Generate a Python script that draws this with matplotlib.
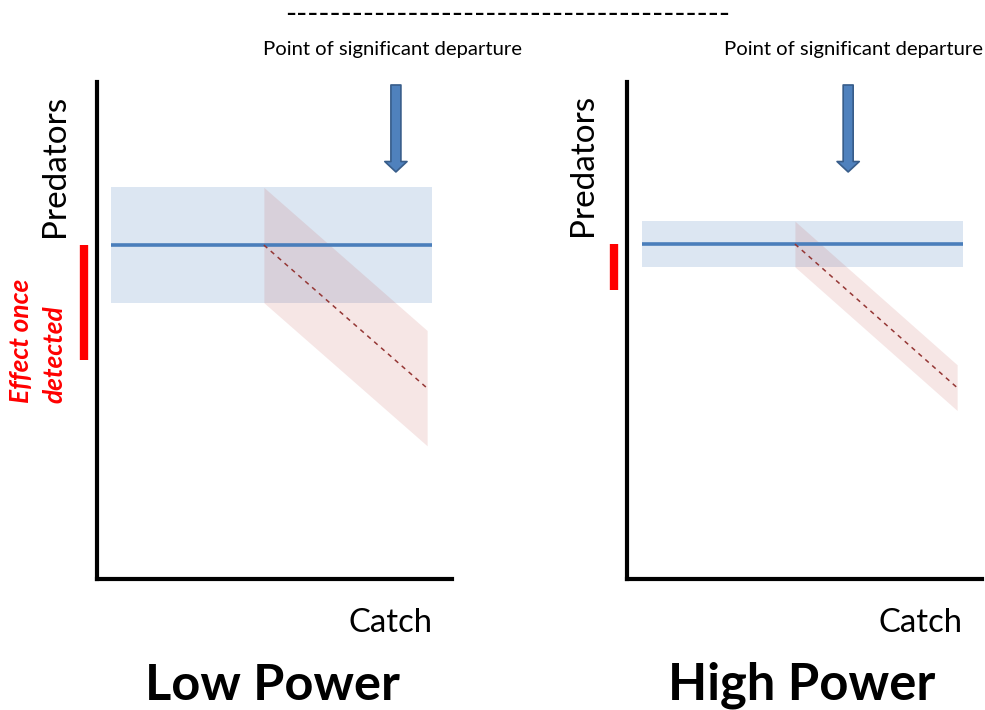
import matplotlib
matplotlib.use("Agg")
import matplotlib.pyplot as plt
import numpy as np

# ---------------- data (conceptual values) ----------------
panel_titles = ["Low Power", "High Power"]
null_x_start = [0.40, 0.42]      # start of the "no effect" band (catch)
null_x_end = [9.45, 9.46]        # end of the "no effect" band
null_level = [6.72, 6.74]        # predators level of the null line
ci_half = [1.16, 0.46]           # half width of confidence bands
depart_x = [4.70, 4.73]          # catch where the decline starts
decline_x_end = [9.30, 9.30]     # catch where decline line ends
decline_y_end = [3.84, 3.85]     # predators at end of decline line
arrow_x = [8.42, 6.23]           # point of significant departure (catch)
arrow_y = [9.94, 8.19]           # arrow top / tip (predators)
effect_bar_x = -0.37             # position of red "effect" bar (catch units)

W, H = 985, 710
fig = plt.figure(figsize=(W / 100, H / 100), dpi=100)
plt.rcParams['font.family'] = ['Lato', 'DejaVu Sans']

def fx(x):
    return x / W

def fy(y):
    return 1 - y / H

# axes boxes in pixels (left, right, top, bottom)
boxes = [(97, 452, 82, 579), (627, 982, 82, 579)]

BLUE_LINE = '#4a7ebb'
BLUE_BAND = '#dce6f2'
RED_BAND = '#c0504d'
RED_LINE = '#953735'

for i, (l, r, t, b) in enumerate(boxes):
    ax = fig.add_axes([fx(l), fy(b), (r - l) / W, (b - t) / H])
    ax.set_xlim(0, 10)
    ax.set_ylim(0, 10)
    for s in ['top', 'right']:
        ax.spines[s].set_visible(False)
    for s in ['left', 'bottom']:
        ax.spines[s].set_linewidth(3)
        ax.spines[s].set_color('black')
        ax.spines[s].set_capstyle('projecting')
    ax.set_xticks([])
    ax.set_yticks([])
    ax.patch.set_alpha(0)

    # null band + line
    xs = np.array([null_x_start[i], null_x_end[i]])
    ax.fill_between(xs, null_level[i] - ci_half[i], null_level[i] + ci_half[i],
                    color=BLUE_BAND, lw=0, zorder=1)
    ax.plot(xs, [null_level[i]] * 2, color=BLUE_LINE, lw=2.6, zorder=3,
            solid_capstyle='butt')

    # decline band + dashed line
    dx = np.array([depart_x[i], decline_x_end[i]])
    dy = np.array([null_level[i], decline_y_end[i]])
    ax.fill_between(dx, dy - ci_half[i], dy + ci_half[i],
                    color=RED_BAND, alpha=0.14, lw=0, zorder=2)
    ax.plot(dx, dy, color=RED_LINE, lw=1.1, ls=(0, (3, 3)), zorder=4)

    # red effect bar
    ax.plot([effect_bar_x, effect_bar_x],
            [null_level[i] - 2 * ci_half[i], null_level[i]],
            color='#ff0000', lw=6, solid_capstyle='butt', clip_on=False)

    # arrow
    ax.annotate('', xy=(arrow_x[i], arrow_y[1]), xytext=(arrow_x[i], arrow_y[0]),
                arrowprops=dict(arrowstyle='simple,head_length=0.75,head_width=1.6,tail_width=0.72',
                                fc='#4f81bd', ec='#385d8a', lw=1.2,
                                shrinkA=0, shrinkB=0, mutation_scale=10),
                annotation_clip=False)

renderer = fig.canvas.get_renderer()

def fit(t, target, dim='w'):
    for _ in range(3):
        bb = t.get_window_extent(renderer=renderer)
        cur = bb.width if dim == 'w' else bb.height
        t.set_fontsize(t.get_fontsize() * target / cur)

# top dashed separator
t = fig.text(fx(508), fy(14), '-' * 40, ha='center', va='center', fontsize=12)
fit(t, 435)

for i, cx in enumerate([392.5, 853]):
    t = fig.text(fx(cx), fy(50), 'Point of significant departure',
                 ha='center', va='center', fontsize=12)
    fit(t, 259)

for i, (cx, cy) in enumerate([(55, 166), (583, 165)]):
    t = fig.text(fx(cx), fy(cy), 'Predators', rotation=90,
                 ha='center', va='center', fontsize=22)
    fit(t, 142, 'h')

for i, cx in enumerate([390, 920]):
    t = fig.text(fx(cx), fy(623), 'Catch', ha='center', va='center', fontsize=22)
    fit(t, 84)

for i, cx in enumerate([272, 801.5]):
    t = fig.text(fx(cx), fy(685), panel_titles[i], ha='center', va='center',
                 fontsize=36, fontweight='bold')
    fit(t, 255 if i == 0 else 267)

t = fig.text(fx(38), fy(403), 'Effect once\ndetected', rotation=90,
             ha='center', va='bottom', multialignment='left',
             fontsize=15, fontweight='bold', fontstyle='italic', color='#ff0000',
             linespacing=1.45)
fit(t, 124, 'h')

fig.savefig('out.png', dpi=100)
